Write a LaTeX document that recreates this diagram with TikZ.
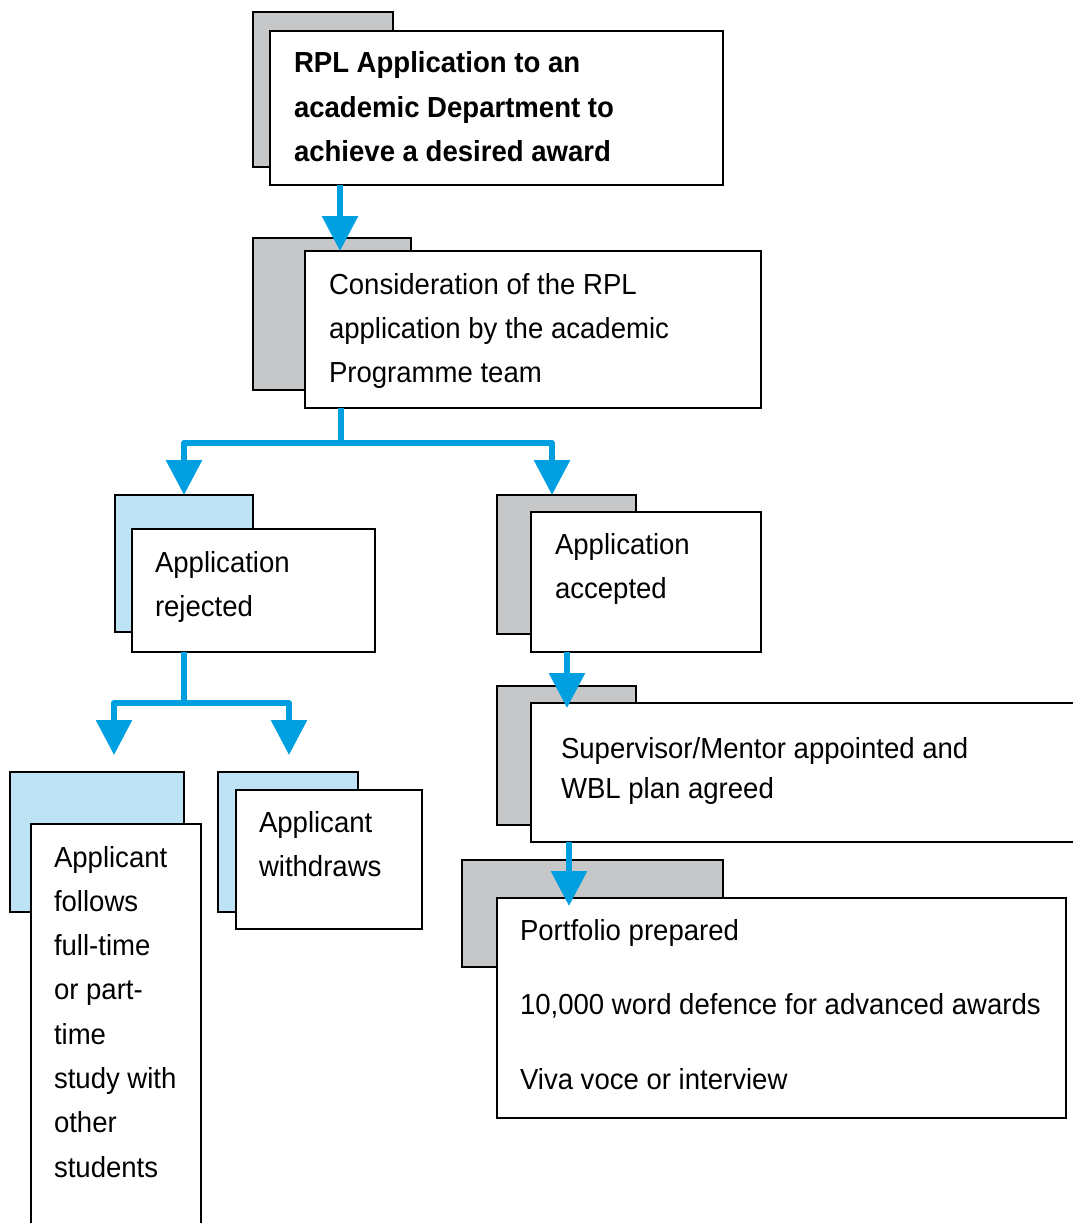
\documentclass[tikz,border=0pt]{standalone}
\usepackage{fontspec}
\setmainfont[FakeStretch=0.95]{Liberation Sans}
\usetikzlibrary{arrows.meta,calc}
\definecolor{panelgray}{HTML}{C6C7C9}
\definecolor{panelblue}{HTML}{BEE3F5}
\definecolor{arrowblue}{HTML}{009FE0}
\tikzset{
  front/.style={draw=black, line width=2pt, fill=white, rectangle, inner sep=0pt, outer sep=0pt, anchor=north west},
  backg/.style={front, fill=panelgray},
  backb/.style={front, fill=panelblue},
  txt/.style={inner sep=0pt, outer sep=0pt, anchor=base west, font=\fontsize{29}{44}\selectfont},
  conn/.style={draw=arrowblue, line width=6pt, line join=round, -{Triangle[width=35pt,length=35pt]}}
}
\newcommand{\lines}[1]{\parbox[t]{600pt}{\raggedright #1}}
\begin{document}
\begin{tikzpicture}[x=1pt,y=-1pt]
\clip (0,0) rectangle (1073,1223);
\fill[white] (0,0) rectangle (1073,1223);
% box 1
\node[backg, minimum width=140pt, minimum height=155pt] (b1back) at (253,12) {};
\node[front, minimum width=453pt, minimum height=154pt] (b1) at (270,31) {};
\node[txt, font=\fontsize{29}{44.5}\selectfont\bfseries] (t1) at (294,73) {\lines{RPL Application to an\\academic Department to\\achieve a desired award}};
% box 2
\node[backg, minimum width=158pt, minimum height=152pt] (b2back) at (253,238) {};
\node[front, minimum width=456pt, minimum height=157pt] (b2) at (305,251) {};
\node[txt] (t2) at (329,294) {\lines{Consideration of the RPL\\application by the academic\\Programme team}};
% box 3 rejected
\node[backb, minimum width=138pt, minimum height=137pt] (b3back) at (115,495) {};
\node[front, minimum width=243pt, minimum height=123pt] (b3) at (132,529) {};
\node[txt] (t3) at (155,572) {\lines{Application\\rejected}};
% box 4 accepted
\node[backg, minimum width=139pt, minimum height=139pt] (b4back) at (497,495) {};
\node[front, minimum width=230pt, minimum height=140pt] (b4) at (531,512) {};
\node[txt] (t4) at (555,554) {\lines{Application\\accepted}};
% box 5 follows
\node[backb, minimum width=174pt, minimum height=140pt] (b5back) at (10,772) {};
\node[front, minimum width=170pt, minimum height=430pt] (b5) at (31,824) {};
\node[txt, font=\fontsize{29}{44.3}\selectfont] (t5) at (54,867) {\lines{Applicant\\follows\\full-time\\or part-\\time\\study with\\other\\students}};
% box 6 withdraws
\node[backb, minimum width=140pt, minimum height=140pt] (b6back) at (218,772) {};
\node[front, minimum width=186pt, minimum height=139pt] (b6) at (236,790) {};
\node[txt] (t6) at (259,832) {\lines{Applicant\\withdraws}};
% box 7 supervisor
\node[backg, minimum width=139pt, minimum height=139pt] (b7back) at (497,686) {};
\node[front, minimum width=570pt, minimum height=139pt] (b7) at (531,703) {};
\node[txt, font=\fontsize{29}{40}\selectfont] (t7) at (561,758) {\lines{Supervisor/Mentor appointed and\\WBL plan agreed}};
% box 8 portfolio
\node[backg, minimum width=261pt, minimum height=107pt] (b8back) at (462,860) {};
\node[front, minimum width=569pt, minimum height=220pt] (b8) at (497,898) {};
\node[txt, font=\fontsize{29}{74.5}\selectfont] (t8) at (520,940) {\lines{Portfolio prepared\\10,000 word defence for advanced awards\\Viva voce or interview}};
% connectors
\draw[conn] ($(b1.south west)+(70,0)$) -- ($(b2.north west)+(35,0)$);
\draw[conn] ($(b2.south west)+(36,0)$) -- ++(0,35) -| (b3back.north);
\draw[conn] ($(b2.south west)+(36,0)$) -- ++(0,35) -| ($(b4back.north west)+(55,0)$);
\draw[conn] ($(b3.south west)+(52,0)$) -- ++(0,51) -| ($(b5back.north west)+(104,-17)$);
\draw[conn] ($(b3.south west)+(52,0)$) -- ++(0,51) -| ($(b6back.north west)+(71,-17)$);
\draw[conn] ($(b4.south west)+(36,0)$) -- ($(b7.north west)+(36,5)$);
\draw[conn] ($(b7.south west)+(38,0)$) -- ($(b8.north west)+(72,8)$);
\end{tikzpicture}
\end{document}
